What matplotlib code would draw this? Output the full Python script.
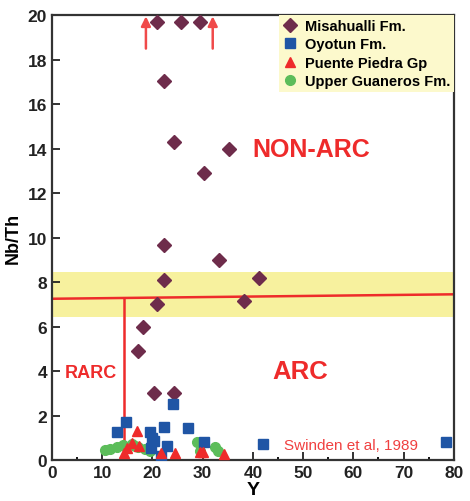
import numpy as np
import matplotlib.pyplot as plt
from matplotlib.ticker import MultipleLocator

plt.rcParams['font.family'] = ['Liberation Sans', 'DejaVu Sans']

# Misahualli Fm.
mis_y = [21.0, 25.6, 29.5, 22.3, 24.3, 35.3, 30.2, 22.3, 33.3, 22.3, 41.3, 21.0, 38.3, 18.2, 17.2, 20.3, 24.3]
mis_nbth = [19.7, 19.7, 19.7, 17.05, 14.3, 14.0, 12.9, 9.65, 9.0, 8.1, 8.2, 7.0, 7.15, 6.0, 4.9, 3.0, 3.0]
# Oyotun Fm.
oyo_y = [24.0, 14.7, 13.0, 22.3, 27.1, 19.5, 20.3, 19.8, 30.2, 22.9, 21.8, 42.0, 78.5, 20.0]
oyo_nbth = [2.5, 1.7, 1.27, 1.47, 1.42, 1.24, 0.87, 0.55, 0.82, 0.62, 0.2, 0.72, 0.8, 1.0]
# Puente Piedra Gp
pp_y = [17.0, 15.9, 17.4, 14.9, 21.8, 24.5, 29.5, 30.1, 34.2, 14.3]
pp_nbth = [1.3, 0.78, 0.62, 0.55, 0.33, 0.31, 0.37, 0.37, 0.27, 0.3]
# Upper Guaneros Fm.
ug_y = [10.5, 11.5, 12.9, 14.2, 15.9, 17.2, 18.5, 19.5, 16.6, 28.8, 29.5, 32.4, 33.1]
ug_nbth = [0.46, 0.49, 0.58, 0.67, 0.72, 0.58, 0.49, 0.4, 0.62, 0.82, 0.42, 0.6, 0.39]

arrow_x = [18.7, 32.0]

fig = plt.figure(figsize=(4.7, 5.02), dpi=100)
ax = fig.add_axes([0.1106, 0.0817, 0.855, 0.886])

red = '#EE2B2B'
ax.axhspan(6.42, 8.45, color='#F7F19E', zorder=0, lw=0)
ax.plot([0, 80], [7.25, 7.45], color=red, lw=1.8, zorder=1)
ax.plot([14.4, 14.4], [0, 7.28], color=red, lw=1.8, zorder=1)

ax.plot(mis_y, mis_nbth, 'D', color='#6E2C4B', ms=7, ls='none', label='Misahualli Fm.', zorder=3)
ax.plot(oyo_y, oyo_nbth, 's', color='#1F55A5', ms=7.5, ls='none', label='Oyotun Fm.', zorder=3)
ax.plot(pp_y, pp_nbth, '^', color=red, ms=7.5, ls='none', label='Puente Piedra Gp', zorder=4)
ax.plot(ug_y, ug_nbth, 'o', color='#5CBD5A', ms=7, ls='none', label='Upper Guaneros Fm.', zorder=2)

for xa in arrow_x:
    ax.annotate('', xy=(xa, 19.95), xytext=(xa, 18.5),
                arrowprops=dict(arrowstyle='-|>', color='#F04A4A', lw=1.8,
                                mutation_scale=14, shrinkA=0, shrinkB=0))

ax.text(51.7, 14.0, 'NON-ARC', color=red, fontsize=18, fontweight='bold', ha='center', va='center')
ax.text(49.5, 4.0, 'ARC', color=red, fontsize=18.5, fontweight='bold', ha='center', va='center')
ax.text(2.5, 3.95, 'RARC', color=red, fontsize=13, fontweight='bold', ha='left', va='center')
ax.text(46.2, 0.68, 'Swinden et al, 1989', color='#F04040', fontsize=11, ha='left', va='center')

ax.set_xlim(0, 80)
ax.set_ylim(0, 20)
ax.xaxis.set_major_locator(MultipleLocator(10))
ax.xaxis.set_minor_locator(MultipleLocator(5))
ax.yaxis.set_major_locator(MultipleLocator(2))
ax.tick_params(which='major', direction='in', length=6, width=1.3, labelsize=12.5, colors='#222222')
ax.tick_params(which='minor', direction='in', length=2.5, width=1.3)
for lab in ax.get_xticklabels() + ax.get_yticklabels():
    lab.set_fontweight('bold')
for sp in ax.spines.values():
    sp.set_linewidth(1.6)
    sp.set_color('#333333')

ax.set_xlabel('Y', fontsize=14, fontweight='bold', labelpad=1)
ax.set_ylabel('Nb/Th', fontsize=13, fontweight='bold', labelpad=4)

leg = ax.legend(loc='upper right', borderaxespad=0, frameon=True, fancybox=False,
                prop={'weight': 'bold', 'size': 10.5}, handletextpad=0.5, labelspacing=0.3,
                borderpad=0.25, handlelength=1.0)
leg.get_frame().set_facecolor('#FCF9CC')
leg.get_frame().set_edgecolor('none')
leg.get_frame().set_alpha(1)

fig.savefig('out.png', dpi=100)
